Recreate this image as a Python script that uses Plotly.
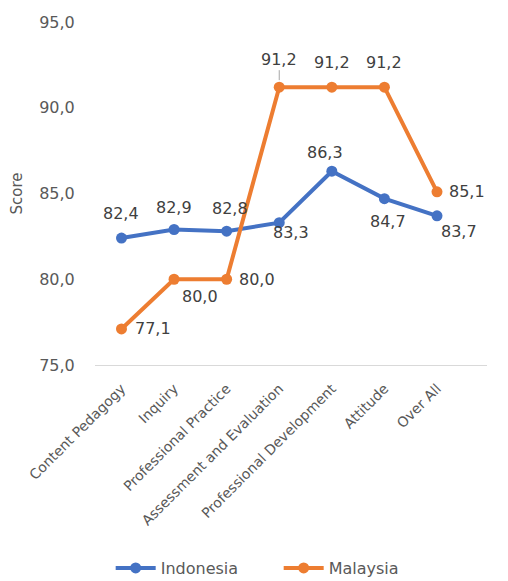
import plotly.graph_objects as go

categories = ["Content Pedagogy", "Inquiry", "Professional Practice",
              "Assessment and Evaluation", "Professional Development",
              "Attitude", "Over All"]
indonesia = [82.4, 82.9, 82.8, 83.3, 86.3, 84.7, 83.7]
malaysia = [77.1, 80.0, 80.0, 91.2, 91.2, 91.2, 85.1]
y_ticks = [75, 80, 85, 90, 95]

# label offsets in pixels (dx, dy) - styling only
indo_offsets = [(0, 25), (0, 22), (3, 23), (12, -10), (-7, 19), (4, -23), (22, -16)]
malay_offsets = [(32, 0), (26, -17), (30, 0), None, (0, 25), (0, 25), (30, 0)]

BLUE = "#4472C4"
ORANGE = "#ED7D31"
FONT = "DejaVu Sans"

def fmt(v):
    return f"{v:.1f}".replace(".", ",")

fig = go.Figure()
fig.add_trace(go.Scatter(x=categories, y=indonesia, name="Indonesia",
                         mode="lines+markers",
                         line=dict(color=BLUE, width=4),
                         marker=dict(color=BLUE, size=11)))
fig.add_trace(go.Scatter(x=categories, y=malaysia, name="Malaysia",
                         mode="lines+markers",
                         line=dict(color=ORANGE, width=4),
                         marker=dict(color=ORANGE, size=11)))

annotations = []
for c, v, off in zip(categories, indonesia, indo_offsets):
    annotations.append(dict(x=c, y=v, xref="x", yref="y", text=fmt(v),
                            showarrow=False, xshift=off[0], yshift=off[1],
                            font=dict(family=FONT, size=16, color="#404040")))
for c, v, off in zip(categories, malaysia, malay_offsets):
    if off is None:
        annotations.append(dict(x=c, y=v, xref="x", yref="y", text=fmt(v),
                                showarrow=True, arrowhead=0, arrowwidth=1,
                                arrowcolor="#a6a6a6", ax=0, ay=-28, standoff=7,
                                font=dict(family=FONT, size=16, color="#404040")))
    else:
        annotations.append(dict(x=c, y=v, xref="x", yref="y", text=fmt(v),
                                showarrow=False, xshift=off[0], yshift=off[1],
                                font=dict(family=FONT, size=16, color="#404040")))

fig.update_layout(
    width=508, height=581,
    margin=dict(l=95, r=21, t=22, b=216, autoexpand=False),
    paper_bgcolor="white", plot_bgcolor="white",
    separators=",.",
    font=dict(family=FONT, color="#595959"),
    showlegend=True,
    legend=dict(orientation="h", x=0.04, xanchor="left", y=-0.592,
                yanchor="middle", font=dict(family=FONT, size=16, color="#595959"),
                itemwidth=40, entrywidth=113, entrywidthmode="pixels"),
    annotations=annotations,
)
fig.update_xaxes(showgrid=False, showline=True, linecolor="#d9d9d9", linewidth=1,
                 tickangle=-45, tickfont=dict(family=FONT, size=14, color="#595959"),
                 ticks="outside", ticklen=9, tickcolor="rgba(0,0,0,0)",
                 zeroline=False, automargin=False)
fig.update_yaxes(range=[75, 95], tickvals=y_ticks, tickformat=".1f",
                 showgrid=False, showline=False, zeroline=False, automargin=False,
                 ticks="outside", ticklen=16, tickcolor="rgba(0,0,0,0)",
                 tickfont=dict(family=FONT, size=16, color="#595959"),
                 title=dict(text="Score", font=dict(family=FONT, size=15, color="#595959"),
                            standoff=12))

fig.write_html("out.html")
